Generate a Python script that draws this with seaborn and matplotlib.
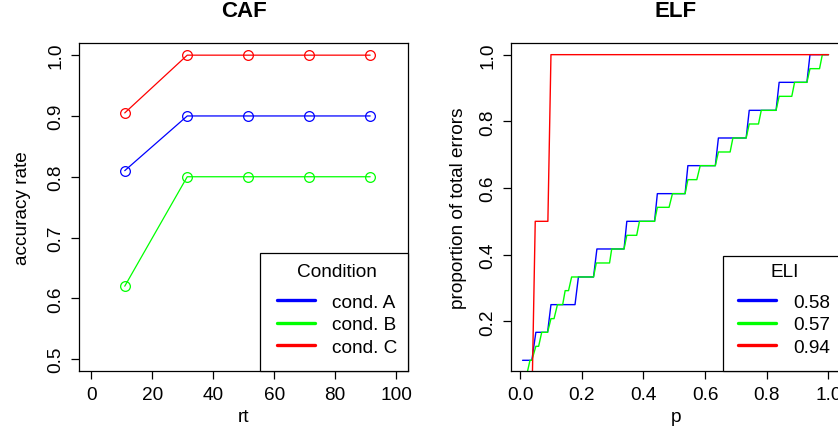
import numpy as np
import pandas as pd
import seaborn as sns
import matplotlib.pyplot as plt
from matplotlib.lines import Line2D
from matplotlib.patches import Rectangle

# CAF: accuracy per rt bin
rt_bins = [11, 31.5, 51.5, 71.5, 91.5]
acc_cond_a = [0.81, 0.90, 0.90, 0.90, 0.90]
acc_cond_b = [0.62, 0.80, 0.80, 0.80, 0.80]
acc_cond_c = [0.905, 1.00, 1.00, 1.00, 1.00]
conditions = ["cond. A", "cond. B", "cond. C"]
cond_colors = ["blue", "lime", "red"]

# ELF: vertices of the three error-location curves
elf_p_a = [0.008, 0.038, 0.051, 0.089, 0.100, 0.178, 0.189, 0.238, 0.249, 0.337,
           0.346, 0.436, 0.445, 0.535, 0.544, 0.633, 0.643, 0.733, 0.743, 0.830,
           0.840, 0.930, 0.940, 1.000]
elf_y_a = [0.083, 0.083, 0.167, 0.167, 0.25, 0.25, 0.333, 0.333, 0.417, 0.417,
           0.5, 0.5, 0.583, 0.583, 0.667, 0.667, 0.75, 0.75, 0.833, 0.833,
           0.917, 0.917, 1.0, 1.0]

elf_p_b = [0.010, 0.022, 0.032, 0.038, 0.051, 0.060, 0.070, 0.089, 0.100, 0.110,
           0.121, 0.138, 0.146, 0.157, 0.167, 0.238, 0.247, 0.290, 0.297, 0.337,
           0.346, 0.378, 0.387, 0.436, 0.445, 0.483, 0.494, 0.535, 0.544, 0.573,
           0.584, 0.633, 0.643, 0.681, 0.690, 0.733, 0.743, 0.773, 0.782, 0.830,
           0.840, 0.881, 0.890, 0.930, 0.940, 0.971, 0.980, 1.000]
elf_y_b = [0.042, 0.042, 0.083, 0.083, 0.125, 0.125, 0.167, 0.167, 0.208, 0.208,
           0.25, 0.25, 0.292, 0.292, 0.333, 0.333, 0.375, 0.375, 0.417, 0.417,
           0.458, 0.458, 0.5, 0.5, 0.542, 0.542, 0.583, 0.583, 0.625, 0.625,
           0.667, 0.667, 0.708, 0.708, 0.75, 0.75, 0.792, 0.792, 0.833, 0.833,
           0.875, 0.875, 0.917, 0.917, 0.958, 0.958, 1.0, 1.0]

elf_p_c = [0.010, 0.039, 0.049, 0.090, 0.100, 1.000]
elf_y_c = [0.0, 0.0, 0.5, 0.5, 1.0, 1.0]

eli_labels = ["0.58", "0.57", "0.94"]

caf_xticks = [0, 20, 40, 60, 80, 100]
caf_yticks = [0.5, 0.6, 0.7, 0.8, 0.9, 1.0]
elf_xticks = [0.0, 0.2, 0.4, 0.6, 0.8, 1.0]
elf_yticks = [0.2, 0.4, 0.6, 0.8, 1.0]

sns.set_theme(style="ticks")
fs = 13.7
plt.rcParams.update({
    "font.family": ["Liberation Sans", "DejaVu Sans"],
    "font.size": fs,
    "axes.edgecolor": "black",
    "axes.linewidth": 0.9,
    "axes.labelcolor": "black",
    "axes.labelsize": fs,
    "xtick.color": "black",
    "ytick.color": "black",
    "xtick.labelsize": fs,
    "ytick.labelsize": fs,
    "xtick.major.size": 5.5,
    "ytick.major.size": 5.5,
    "xtick.major.width": 0.9,
    "ytick.major.width": 0.9,
    "xtick.major.pad": 5,
    "ytick.major.pad": 5,
    "text.color": "black",
})

fig = plt.figure(figsize=(8.38, 4.31), dpi=100)
ax1 = fig.add_axes([79 / 838, 58.7 / 431, 329.3 / 838, 328.3 / 431])
ax2 = fig.add_axes([511 / 838, 58.7 / 431, 329.7 / 838, 328.3 / 431])


def boxed_legend(ax, labels, title, box_x, box_top, content_x, content_top):
    # R-style legend: square box touching the bottom right of the plot frame
    ax.add_patch(Rectangle((box_x, 0), 1 - box_x, box_top, transform=ax.transAxes,
                           facecolor="white", edgecolor="black", linewidth=0.9,
                           zorder=4.5, clip_on=False))
    handles = [Line2D([], [], color=c, linewidth=2.4) for c in cond_colors]
    leg = ax.legend(handles, labels, title=title, loc="upper left",
                    bbox_to_anchor=(content_x, content_top), borderaxespad=0,
                    frameon=False, handlelength=2.0, handletextpad=0.91,
                    borderpad=0, labelspacing=0.284, fontsize=fs,
                    title_fontsize=fs)
    leg._legend_box.sep = 9.2
    leg.set_zorder(5)
    return leg


# ---- CAF panel
for acc, col in zip([acc_cond_a, acc_cond_b, acc_cond_c], cond_colors):
    sns.lineplot(x=rt_bins, y=acc, ax=ax1, color=col, linewidth=0.9,
                 marker="o", markersize=7, markerfacecolor="none",
                 markeredgecolor=col, markeredgewidth=0.9, legend=False)

ax1.set_xlim(-4, 104)
ax1.set_ylim(0.48, 1.02)
ax1.set_xticks(caf_xticks)
ax1.set_xticklabels([str(t) for t in caf_xticks])
ax1.set_yticks(caf_yticks)
ax1.set_yticklabels([f"{t:.1f}" for t in caf_yticks], rotation=90, va="center")
ax1.set_xlabel("rt", va="center")
ax1.set_ylabel("accuracy rate", va="center")
ax1.xaxis.set_label_coords(0.5, -0.139)
ax1.yaxis.set_label_coords(-0.172, 0.5)
ax1.set_title("CAF", fontweight="bold", fontsize=16, y=1.073, va="center")
boxed_legend(ax1, conditions, "Condition", 0.5497, 0.3603, 0.6004, 0.3284)

# ---- ELF panel
for px, py, col in zip([elf_p_a, elf_p_b, elf_p_c], [elf_y_a, elf_y_b, elf_y_c], cond_colors):
    sns.lineplot(x=px, y=py, ax=ax2, color=col, linewidth=1.0,
                 estimator=None, sort=False, legend=False)

ax2.set_xlim(-0.0296, 1.0396)
ax2.set_ylim(0.05, 1.035)
ax2.set_xticks(elf_xticks)
ax2.set_xticklabels([f"{t:.1f}" for t in elf_xticks])
ax2.set_yticks(elf_yticks)
ax2.set_yticklabels([f"{t:.1f}" for t in elf_yticks], rotation=90, va="center")
ax2.set_xlabel("p", va="center")
ax2.set_ylabel("proportion of total errors", va="center")
ax2.xaxis.set_label_coords(0.5, -0.139)
ax2.yaxis.set_label_coords(-0.160, 0.5)
ax2.set_title("ELF", fontweight="bold", fontsize=16, y=1.073, va="center")
boxed_legend(ax2, eli_labels, "ELI", 0.6421, 0.3503, 0.6894, 0.3284)

fig.savefig("out.png", dpi=100)
